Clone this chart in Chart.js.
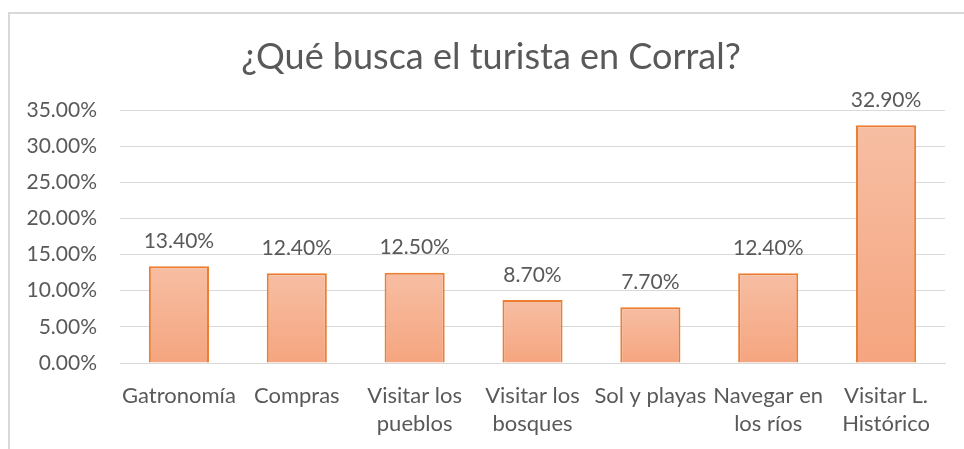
<!DOCTYPE html>
<html>
<head>
<meta charset="utf-8">
<script src="https://cdn.jsdelivr.net/npm/chart.js@4/dist/chart.umd.min.js"></script>
<style>
  html, body { margin: 0; padding: 0; background: #fff; overflow: hidden; }
  #frame {
    position: absolute; left: 8px; top: 12px; width: 1100px; height: 600px;
    border: 2px solid #d9d9d9; box-sizing: border-box;
  }
  #wrap { position: absolute; left: 0; top: 0; width: 982px; height: 449px; }
</style>
</head>
<body>
<div id="frame"></div>
<div id="wrap"><canvas id="chart" width="982" height="449"></canvas></div>
<script>
const titleText = '¿Qué busca el turista en Corral?';
const categories = [
  'Gatronomía',
  'Compras',
  ['Visitar los', 'pueblos'],
  ['Visitar los', 'bosques'],
  'Sol y playas',
  ['Navegar en', 'los ríos'],
  ['Visitar L.', 'Histórico']
];
const shares = [13.4, 12.4, 12.5, 8.7, 7.7, 12.4, 32.9];
const yTicks = [0, 5, 10, 15, 20, 25, 30, 35];

const FONT = 'Lato, "Noto Sans", sans-serif';
const GREY = '#595959';

// gradient per bar, light at top, darker at the base
function barFill(context) {
  const chart = context.chart;
  const area = chart.chartArea;
  if (!area) return '#f5ad8a';
  const y = chart.scales.y;
  const top = y.getPixelForValue(context.raw);
  const bottom = y.getPixelForValue(0);
  const g = chart.ctx.createLinearGradient(0, top, 0, bottom);
  g.addColorStop(0, '#f7bea3');
  g.addColorStop(1, '#f5a57f');
  return g;
}

const valueLabels = {
  id: 'valueLabels',
  afterDatasetsDraw(chart) {
    const ctx = chart.ctx;
    const meta = chart.getDatasetMeta(0);
    ctx.save();
    ctx.font = '21px ' + FONT;
    ctx.fillStyle = GREY;
    ctx.textAlign = 'center';
    ctx.textBaseline = 'middle';
    meta.data.forEach((bar, i) => {
      ctx.fillText(shares[i].toFixed(2) + '%', bar.x, bar.y - 25);
    });
    ctx.restore();
  }
};

new Chart(document.getElementById('chart'), {
  type: 'bar',
  data: {
    labels: categories,
    datasets: [{
      data: shares,
      backgroundColor: barFill,
      borderColor: '#ed7d31',
      borderWidth: 2,
      borderSkipped: 'bottom',
      categoryPercentage: 1,
      barPercentage: 0.51
    }]
  },
  options: {
    responsive: false,
    animation: false,
    layout: { padding: 0 },
    plugins: {
      legend: { display: false },
      tooltip: { enabled: false },
      title: {
        display: true,
        text: titleText,
        color: GREY,
        font: { family: FONT, size: 36, weight: 'normal', lineHeight: 1.2 },
        padding: { top: 35.4, bottom: 31.4 }
      }
    },
    scales: {
      x: {
        grid: { display: false, drawTicks: false },
        border: { color: '#d9d9d9', width: 1 },
        ticks: {
          color: GREY,
          font: { family: FONT, size: 22, lineHeight: 1.27 },
          padding: 19,
          maxRotation: 0,
          autoSkip: false
        },
        afterFit(s) { s.height = 86; }
      },
      y: {
        min: 0,
        max: 35,
        grid: { color: '#d9d9d9', drawTicks: false },
        border: { display: false },
        afterBuildTicks(s) { s.ticks = yTicks.map(v => ({ value: v })); },
        ticks: {
          color: GREY,
          font: { family: FONT, size: 21 },
          padding: 23,
          callback: v => v.toFixed(2) + '%'
        },
        afterFit(s) { s.width = 120; }
      },
      // empty spacer on the right so the plot ends where the reference does
      spacer: {
        type: 'linear',
        position: 'right',
        grid: { display: false, drawTicks: false },
        border: { display: false },
        ticks: { display: false },
        afterFit(s) { s.width = 37; }
      }
    }
  },
  plugins: [valueLabels]
});
</script>
</body>
</html>
